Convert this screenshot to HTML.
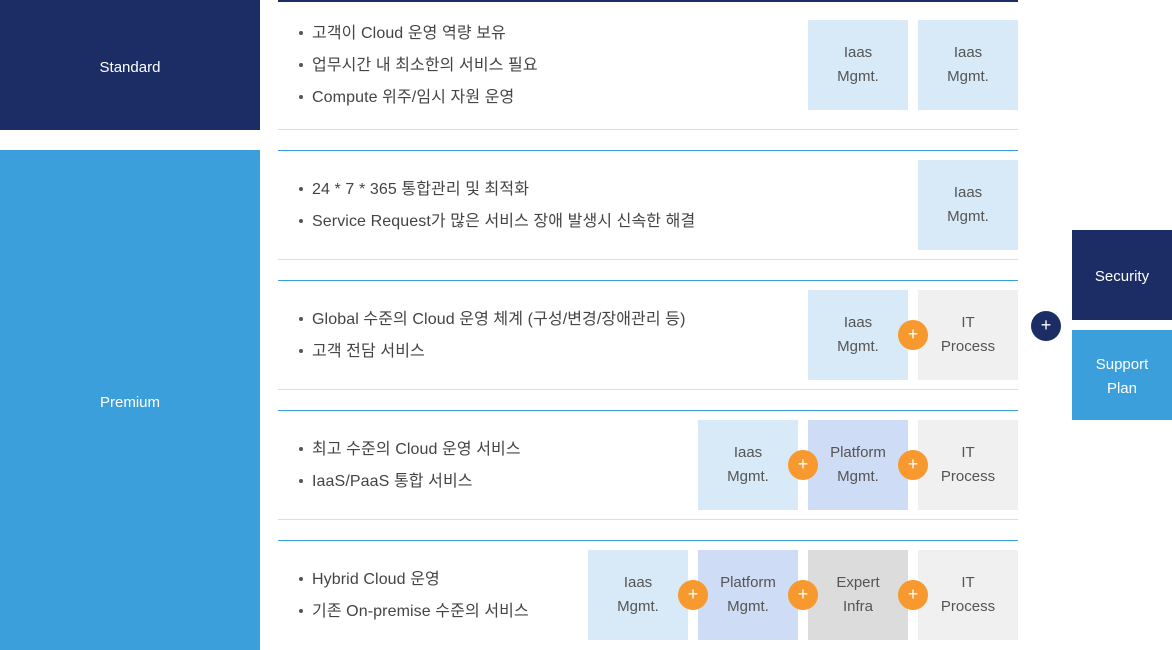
<!DOCTYPE html>
<html><head><meta charset="utf-8"><style>
body{margin:0;width:1172px;height:650px;position:relative;overflow:hidden;background:#fff;font-family:"Liberation Sans","Noto Sans CJK KR",sans-serif;}
.a{position:absolute}
.lab{color:#fff;font-size:15px;display:flex;align-items:center;justify-content:center;text-align:center;line-height:24px}
.b{position:absolute;width:100px;height:90px;display:flex;align-items:center;justify-content:center;text-align:center;font-size:15px;line-height:24px;color:#555}
.i{background:#d8e9f7}.p{background:#cfdcf5}.e{background:#dcdcdc}.t{background:#f0f0f0}
.t1{position:absolute;left:312px;font-size:16px;letter-spacing:0.1px;color:#444;white-space:nowrap;margin-top:-3px}
.t1:before{content:"";position:absolute;left:-13px;top:12px;width:4px;height:4px;border-radius:50%;background:#555}
.o{position:absolute;width:30px;height:30px;border-radius:50%;background:#f7992e;color:#fff;font-size:18px;line-height:29px;text-align:center}
.line{position:absolute;left:278px;width:740px;height:1px}
</style></head><body>
<div class="a lab" style="left:0;top:0;width:260px;height:130px;background:#1c2d66;padding-top:6px;box-sizing:border-box">Standard</div>
<div class="a lab" style="left:0;top:150px;width:260px;height:500px;background:#3a9fdb;padding-top:6px;box-sizing:border-box">Premium</div>

<div class="line" style="top:0;background:#1c2d66;height:2px"></div>
<div class="line" style="top:129px;background:#ddd"></div>
<div class="line" style="top:150px;background:#3a9fdb"></div>
<div class="line" style="top:259px;background:#ddd"></div>
<div class="line" style="top:280px;background:#3a9fdb"></div>
<div class="line" style="top:389px;background:#ddd"></div>
<div class="line" style="top:410px;background:#3a9fdb"></div>
<div class="line" style="top:519px;background:#ddd"></div>
<div class="line" style="top:540px;background:#3a9fdb"></div>

<div class="t1" style="top:22px">고객이 Cloud 운영 역량 보유</div>
<div class="t1" style="top:54px">업무시간 내 최소한의 서비스 필요</div>
<div class="t1" style="top:86px">Compute 위주/임시 자원 운영</div>
<div class="t1" style="top:178px">24 * 7 * 365 통합관리 및 최적화</div>
<div class="t1" style="top:210px">Service Request가 많은 서비스 장애 발생시 신속한 해결</div>
<div class="t1" style="top:308px">Global 수준의 Cloud 운영 체계 (구성/변경/장애관리 등)</div>
<div class="t1" style="top:340px">고객 전담 서비스</div>
<div class="t1" style="top:438px">최고 수준의 Cloud 운영 서비스</div>
<div class="t1" style="top:470px">IaaS/PaaS 통합 서비스</div>
<div class="t1" style="top:568px">Hybrid Cloud 운영</div>
<div class="t1" style="top:600px">기존 On-premise 수준의 서비스</div>

<div class="b i" style="left:808px;top:20px">Iaas<br>Mgmt.</div>
<div class="b i" style="left:918px;top:20px">Iaas<br>Mgmt.</div>
<div class="b i" style="left:918px;top:160px">Iaas<br>Mgmt.</div>
<div class="b i" style="left:808px;top:290px">Iaas<br>Mgmt.</div>
<div class="b t" style="left:918px;top:290px">IT<br>Process</div>
<div class="b i" style="left:698px;top:420px">Iaas<br>Mgmt.</div>
<div class="b p" style="left:808px;top:420px">Platform<br>Mgmt.</div>
<div class="b t" style="left:918px;top:420px">IT<br>Process</div>
<div class="b i" style="left:588px;top:550px">Iaas<br>Mgmt.</div>
<div class="b p" style="left:698px;top:550px">Platform<br>Mgmt.</div>
<div class="b e" style="left:808px;top:550px">Expert<br>Infra</div>
<div class="b t" style="left:918px;top:550px">IT<br>Process</div>

<div class="o" style="left:898px;top:320px">+</div>
<div class="o" style="left:788px;top:450px">+</div>
<div class="o" style="left:898px;top:450px">+</div>
<div class="o" style="left:678px;top:580px">+</div>
<div class="o" style="left:788px;top:580px">+</div>
<div class="o" style="left:898px;top:580px">+</div>

<div class="o" style="left:1031px;top:311px;background:#1c2d66">+</div>
<div class="a lab" style="left:1072px;top:230px;width:100px;height:90px;background:#1c2d66;padding-top:4px;box-sizing:border-box">Security</div>
<div class="a lab" style="left:1072px;top:330px;width:100px;height:90px;background:#3a9fdb;padding-top:4px;box-sizing:border-box">Support<br>Plan</div>
</body></html>
